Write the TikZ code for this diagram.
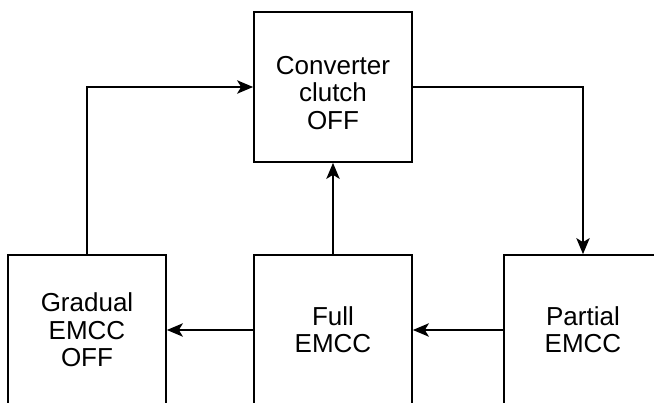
\documentclass[tikz,border=0pt]{standalone}
\usepackage{fontspec}
\setmainfont{Liberation Sans}
\usetikzlibrary{arrows.meta}

\begin{document}
\begin{tikzpicture}[x=0.75pt, y=-0.75pt]
	\tikzset{box/.style = {draw, line width=1.3pt, minimum width=118.5pt, minimum height=112.5pt, inner sep=0pt, align=center, font=\fontsize{19.5}{20.5}\selectfont}}
	\tikzset{txt/.style = {align=center, font=\fontsize{19.5}{20.5}\selectfont}}
	\tikzset{arr/.style = {-{Stealth[length=12pt, width=10pt, inset=3pt]}, line width=1.3pt}}
	\useasboundingbox (0,0) rectangle (654,403);
	\clip (0,0) rectangle (654,403);
	% states
	\node[box, label={[txt, yshift=-4.5pt]center:{Converter\\clutch\\OFF}}] (conv) at (333,87) {};
	\node[box] (gradual) at (87,330) {Gradual\\EMCC\\OFF};
	\node[box] (full) at (333,330) {Full\\EMCC};
	\node[box] (partial) at (583,330) {Partial\\EMCC};
	% transitions
	\draw[arr] (gradual.north) |- (conv.west);
	\draw[arr] (conv.east) -| (partial.north);
	\draw[arr] (full.north) -- (conv.south);
	\draw[arr] (partial.west) -- (full.east);
	\draw[arr] (full.west) -- (gradual.east);
\end{tikzpicture}
\end{document}
